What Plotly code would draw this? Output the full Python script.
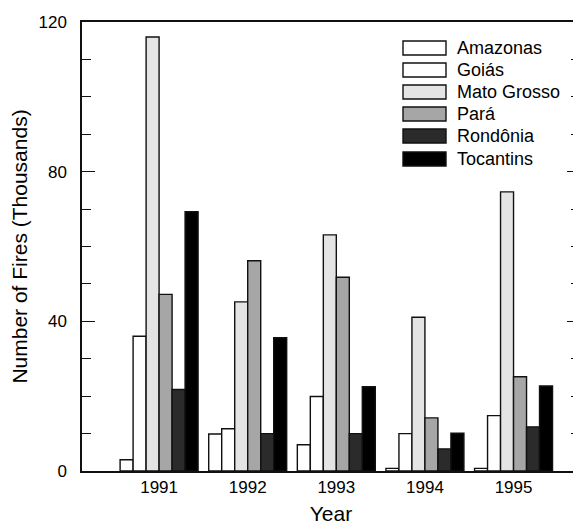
import plotly.graph_objects as go

years = [1991, 1992, 1993, 1994, 1995]
states = ["Amazonas", "Goiás", "Mato Grosso", "Pará", "Rondônia", "Tocantins"]
amazonas = [3, 9.9, 7, 0.7, 0.7]
goias = [36, 11.3, 19.9, 10, 14.8]
mato_grosso = [116, 45.2, 63.1, 41.1, 74.6]
para = [47.2, 56.2, 51.8, 14.2, 25.2]
rondonia = [21.8, 10, 10, 5.9, 11.8]
tocantins = [69.3, 35.6, 22.5, 10.1, 22.7]
y_ticks = [0, 40, 80, 120]

series = [amazonas, goias, mato_grosso, para, rondonia, tocantins]
colors = ["#ffffff", "#ffffff", "#e4e4e4", "#a6a6a6", "#2b2b2b", "#000000"]

FONT = "Liberation Sans, Arial, Helvetica, sans-serif"
OFF = 8  # page body margin
W, H = 581 - OFF, 525 - OFF
L, T = 82 - OFF, 22 - OFF
R = W - (580 - OFF)
B = H - (471 - OFF)

fig = go.Figure()
for name, vals, col in zip(states, series, colors):
    fig.add_trace(go.Bar(
        x=years, y=vals, name=name,
        marker=dict(color=col, line=dict(color="#111111", width=1.4)),
        showlegend=False,
    ))

# custom legend (wide boxes like the original)
pw = W - L - R
ph = H - T - B
box_x0, box_x1, text_x = 403 - OFF, 446 - OFF, 455 - OFF
row_y = [48, 70, 92, 114, 136, 159]
for name, col, yc in zip(states, colors, row_y):
    yc = yc - OFF
    fig.add_shape(type="rect", xref="paper", yref="paper",
                  x0=(box_x0 - L) / pw, x1=(box_x1 - L) / pw,
                  y0=(H - B - (yc + 7)) / ph, y1=(H - B - (yc - 7)) / ph,
                  fillcolor=col, line=dict(color="#111111", width=1.4))
    fig.add_annotation(xref="paper", yref="paper",
                       x=(text_x - L) / pw, y=(H - B - yc) / ph,
                       text=name, showarrow=False, xanchor="left", yanchor="middle",
                       font=dict(family=FONT, size=18, color="black"))

fig.update_layout(
    width=W, height=H,
    margin=dict(l=L, r=R, t=T, b=B, pad=0),
    paper_bgcolor="white", plot_bgcolor="white",
    barmode="group", bargap=0.12, bargroupgap=0,
    font=dict(family=FONT, color="black"),
    xaxis=dict(
        range=[1990.13, 1995.75], tickvals=years, ticktext=[str(y) for y in years],
        ticks="", showgrid=False, zeroline=False, automargin=False,
        showline=True, linecolor="#111111", linewidth=1.5, mirror=True,
        tickfont=dict(size=17),
        title=dict(text="Year", font=dict(size=21), standoff=12),
    ),
    yaxis=dict(
        range=[0, 120], tickvals=y_ticks, ticks="inside", ticklen=13,
        tickwidth=1.4, tickcolor="#111111", automargin=False,
        minor=dict(dtick=10, ticks="inside", ticklen=9, tickwidth=1.4, tickcolor="#111111", showgrid=False),
        showgrid=False, zeroline=False,
        showline=True, linecolor="#111111", linewidth=1.5, mirror="ticks",
        tickfont=dict(size=17), ticklabelstandoff=10,
        title=dict(text="Number of Fires (Thousands)", font=dict(size=21), standoff=10),
    ),
)

fig.write_html("out.html")
